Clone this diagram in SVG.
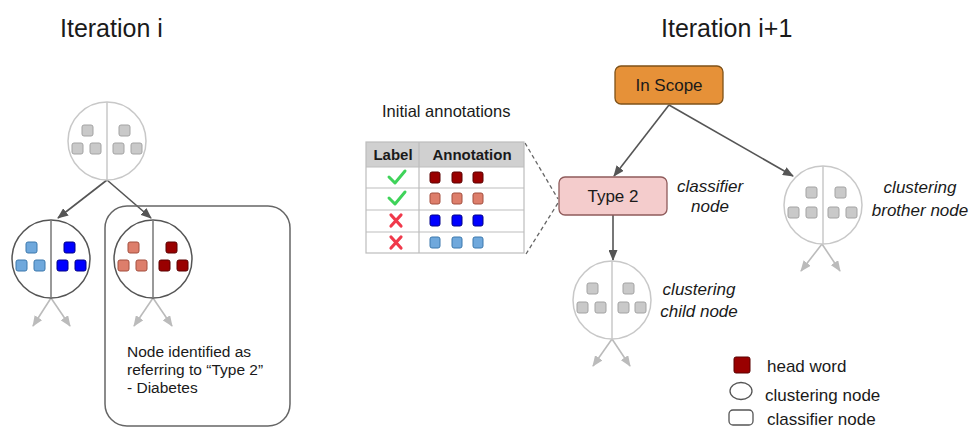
<svg xmlns="http://www.w3.org/2000/svg" width="973" height="428" viewBox="0 0 973 428">
<style>
text{font-family:"Liberation Sans",Arial,sans-serif;fill:#1a1a1a}
.title{font-size:25px}
.lbl{font-size:17px}
.it{font-size:17px;font-style:italic}
.note{font-size:15.5px}
.th{font-size:15px;font-weight:bold}
.cg{fill:#fff;stroke:#c8c8c8;stroke-width:1.5}
.cgd{stroke:#c8c8c8;stroke-width:1.5}
.cd{fill:#fff;stroke:#555;stroke-width:1.5}
.cdd{stroke:#777;stroke-width:1.5}
.sq{stroke-width:1}
.g{fill:#c9c9c9;stroke:#a3a3a3}
.lb{fill:#6fa8dc;stroke:#3d79ad}
.b{fill:#0000ff;stroke:#00008a}
.s{fill:#dd7e6b;stroke:#a34f3e}
.r{fill:#990000;stroke:#5a0000}
.arr{stroke:#555;stroke-width:1.6;fill:none;marker-end:url(#ah)}
.arl{stroke:#bbb;stroke-width:1.6;fill:none;marker-end:url(#al)}
.dash{stroke:#666;stroke-width:1.3;stroke-dasharray:4 3;fill:none}
.tb{stroke:#bdbdbd;stroke-width:1.2;fill:none}
</style>
<defs>
<marker id="ah" markerUnits="userSpaceOnUse" markerWidth="11" markerHeight="9" refX="10" refY="4.5" orient="auto"><path d="M0,0 L11,4.5 L0,9 z" fill="#555"/></marker>
<marker id="al" markerUnits="userSpaceOnUse" markerWidth="11" markerHeight="9" refX="10" refY="4.5" orient="auto"><path d="M0,0 L11,4.5 L0,9 z" fill="#bbb"/></marker>
</defs>
<rect width="973" height="428" fill="#fff"/>

<text class="title" x="60" y="37">Iteration i</text>
<text class="title" x="661" y="37">Iteration i+1</text>

<g id="connectors">
<path class="arr" d="M107,180 L58,218"/>
<path class="arr" d="M107,180 L151,218"/>
<path class="arl" d="M51,298 L33,326"/>
<path class="arl" d="M51,298 L70,326"/>
<path class="arl" d="M153,298 L134,326"/>
<path class="arl" d="M153,298 L172,326"/>
<path class="arr" d="M669,105 L614,176"/>
<path class="arr" d="M669,105 L793,176"/>
<path class="arr" d="M613,215 L613,260"/>
<path class="arl" d="M612,339 L593,366"/>
<path class="arl" d="M612,339 L630,366"/>
<path class="arl" d="M822,244 L801,271"/>
<path class="arl" d="M822,244 L840,271"/>
<path class="dash" d="M525,143 L558,199"/>
<path class="dash" d="M526,254 L558,203"/>
</g>

<g id="iter-i-root" transform="translate(107,141)">
<circle class="cg" r="39"/>
<line class="cgd" x1="0" y1="-39" x2="0" y2="39"/>
<rect class="sq g" x="-25" y="-16" width="11" height="11" rx="2"/>
<rect class="sq g" x="-35" y="2" width="11" height="11" rx="2"/>
<rect class="sq g" x="-17" y="2" width="11" height="11" rx="2"/>
<rect class="sq g" x="12" y="-16" width="11" height="11" rx="2"/>
<rect class="sq g" x="6" y="2" width="11" height="11" rx="2"/>
<rect class="sq g" x="24" y="2" width="11" height="11" rx="2"/>
</g>

<g id="iter-i-blue" transform="translate(51,259)">
<circle class="cd" r="39"/>
<line class="cdd" x1="0" y1="-39" x2="0" y2="39"/>
<rect class="sq lb" x="-25" y="-17" width="11" height="11" rx="2"/>
<rect class="sq lb" x="-35" y="1" width="11" height="11" rx="2"/>
<rect class="sq lb" x="-17" y="1" width="11" height="11" rx="2"/>
<rect class="sq b" x="13" y="-17" width="11" height="11" rx="2"/>
<rect class="sq b" x="6" y="1" width="11" height="11" rx="2"/>
<rect class="sq b" x="24" y="1" width="11" height="11" rx="2"/>
</g>

<g id="iter-i-red-box">
<rect x="105" y="206" width="185" height="220" rx="22" fill="none" stroke="#666" stroke-width="1.5"/>
<text class="note" x="127" y="357">Node identified as</text>
<text class="note" x="127" y="375">referring to “Type 2”</text>
<text class="note" x="127" y="393">- Diabetes</text>
</g>

<g id="iter-i-red" transform="translate(153,259)">
<circle class="cd" r="39"/>
<line class="cdd" x1="0" y1="-39" x2="0" y2="39"/>
<rect class="sq s" x="-25" y="-17" width="11" height="11" rx="2"/>
<rect class="sq s" x="-35" y="1" width="11" height="11" rx="2"/>
<rect class="sq s" x="-17" y="1" width="11" height="11" rx="2"/>
<rect class="sq r" x="13" y="-17" width="11" height="11" rx="2"/>
<rect class="sq r" x="6" y="1" width="11" height="11" rx="2"/>
<rect class="sq r" x="24" y="1" width="11" height="11" rx="2"/>
</g>

<g id="annotations">
<text class="lbl" x="382" y="117" style="font-size:16.5px">Initial annotations</text>
<rect x="366" y="142" width="158" height="25" fill="#d0d0d0"/>
<rect class="tb" x="366" y="142" width="158" height="111"/>
<line class="tb" x1="419" y1="142" x2="419" y2="253"/>
<line class="tb" x1="366" y1="167" x2="524" y2="167"/>
<line class="tb" x1="366" y1="188" x2="524" y2="188"/>
<line class="tb" x1="366" y1="210" x2="524" y2="210"/>
<line class="tb" x1="366" y1="232" x2="524" y2="232"/>
<text class="th" x="393" y="160" text-anchor="middle">Label</text>
<text class="th" x="472" y="160" text-anchor="middle">Annotation</text>
<path d="M389,177 L395,183 L405,171" stroke="#3fd35a" stroke-width="3" fill="none" stroke-linecap="round" stroke-linejoin="round"/>
<path d="M389,198 L395,204 L405,192" stroke="#3fd35a" stroke-width="3" fill="none" stroke-linecap="round" stroke-linejoin="round"/>
<path d="M391,215 L401,226 M401,215 L391,226" stroke="#f0394b" stroke-width="3.2" fill="none" stroke-linecap="round"/>
<path d="M391,237 L401,248 M401,237 L391,248" stroke="#f0394b" stroke-width="3.2" fill="none" stroke-linecap="round"/>
<rect class="sq r" x="430" y="172" width="10" height="11" rx="2"/>
<rect class="sq r" x="452" y="172" width="10" height="11" rx="2"/>
<rect class="sq r" x="473" y="172" width="10" height="11" rx="2"/>
<rect class="sq s" x="430" y="193" width="10" height="11" rx="2"/>
<rect class="sq s" x="452" y="193" width="10" height="11" rx="2"/>
<rect class="sq s" x="473" y="193" width="10" height="11" rx="2"/>
<rect class="sq b" x="430" y="215" width="10" height="11" rx="2"/>
<rect class="sq b" x="452" y="215" width="10" height="11" rx="2"/>
<rect class="sq b" x="473" y="215" width="10" height="11" rx="2"/>
<rect class="sq lb" x="430" y="237" width="10" height="11" rx="2"/>
<rect class="sq lb" x="452" y="237" width="10" height="11" rx="2"/>
<rect class="sq lb" x="473" y="237" width="10" height="11" rx="2"/>
</g>

<g id="in-scope">
<rect x="615" y="66" width="108" height="38" rx="6" fill="#e69138" stroke="#7f5218" stroke-width="1.3"/>
<text class="lbl" x="669" y="91" text-anchor="middle">In Scope</text>
</g>

<g id="type2">
<rect x="559" y="177" width="108" height="38" rx="6" fill="#f4cccc" stroke="#8f5b5b" stroke-width="1.3"/>
<text class="lbl" x="613" y="202" text-anchor="middle">Type 2</text>
<text class="it" x="710" y="192" text-anchor="middle">classifier</text>
<text class="it" x="710" y="212" text-anchor="middle">node</text>
</g>

<g id="brother" transform="translate(823,205)">
<circle class="cg" r="39"/>
<line class="cgd" x1="0" y1="-39" x2="0" y2="39"/>
<rect class="sq g" x="-17" y="-18" width="11" height="11" rx="2"/>
<rect class="sq g" x="-35" y="2" width="11" height="11" rx="2"/>
<rect class="sq g" x="-17" y="2" width="11" height="11" rx="2"/>
<rect class="sq g" x="12" y="-18" width="11" height="11" rx="2"/>
<rect class="sq g" x="5" y="2" width="11" height="11" rx="2"/>
<rect class="sq g" x="23" y="2" width="11" height="11" rx="2"/>
<text class="it" x="97" y="-12" text-anchor="middle">clustering</text>
<text class="it" x="97" y="11" text-anchor="middle">brother node</text>
</g>

<g id="child" transform="translate(612,300)">
<circle class="cg" r="39"/>
<line class="cgd" x1="0" y1="-39" x2="0" y2="39"/>
<rect class="sq g" x="-25" y="-17" width="11" height="11" rx="2"/>
<rect class="sq g" x="-35" y="2" width="11" height="11" rx="2"/>
<rect class="sq g" x="-17" y="2" width="11" height="11" rx="2"/>
<rect class="sq g" x="11" y="-17" width="11" height="11" rx="2"/>
<rect class="sq g" x="6" y="2" width="11" height="11" rx="2"/>
<rect class="sq g" x="23" y="2" width="11" height="11" rx="2"/>
<text class="it" x="87" y="-5" text-anchor="middle">clustering</text>
<text class="it" x="87" y="17" text-anchor="middle">child node</text>
</g>

<g id="legend">
<rect class="sq r" x="734" y="357" width="16" height="16" rx="2"/>
<text class="lbl" x="767" y="372">head word</text>
<ellipse cx="741" cy="391" rx="11" ry="8.5" fill="#fff" stroke="#555" stroke-width="1.3"/>
<text class="lbl" x="765" y="401">clustering node</text>
<rect x="729" y="410" width="24" height="15" rx="4" fill="#fff" stroke="#555" stroke-width="1.3"/>
<text class="lbl" x="767" y="425">classifier node</text>
</g>
</svg>
